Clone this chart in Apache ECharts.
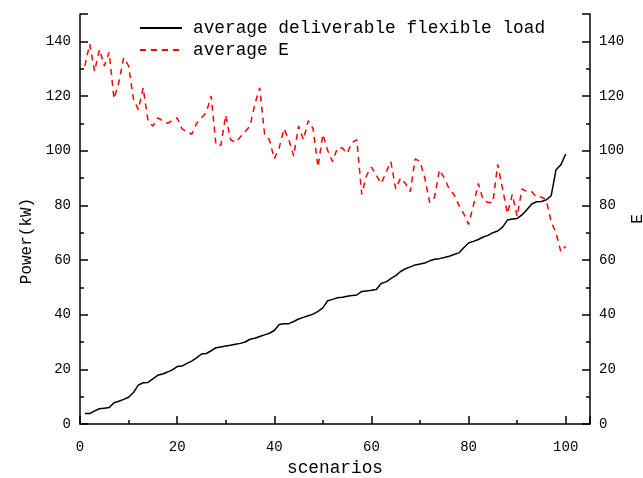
<!DOCTYPE html>
<html>
<head>
<meta charset="utf-8">
<script src="https://cdn.jsdelivr.net/npm/echarts@6/dist/echarts.min.js"></script>
<style>
html,body{margin:0;padding:0;background:#fff;overflow:hidden;}
#c{width:643px;height:478px;}
</style>
</head>
<body>
<div id="c"></div>
<script>
var scenarios = [1,2,3,4,5,6,7,8,9,10,11,12,13,14,15,16,17,18,19,20,21,22,23,24,25,26,27,28,29,30,31,32,33,34,35,36,37,38,39,40,41,42,43,44,45,46,47,48,49,50,51,52,53,54,55,56,57,58,59,60,61,62,63,64,65,66,67,68,69,70,71,72,73,74,75,76,77,78,79,80,81,82,83,84,85,86,87,88,89,90,91,92,93,94,95,96,97,98,99,100];
var flexLoad = [3.8,3.8,4.8,5.6,5.8,6.0,7.8,8.3,9.0,9.8,11.5,14.2,15.1,15.2,16.5,17.8,18.3,19.0,19.8,21.0,21.2,22.2,23.0,24.2,25.6,25.8,26.8,27.9,28.2,28.5,28.8,29.2,29.5,30.0,31.0,31.4,32.0,32.6,33.2,34.2,36.4,36.7,36.7,37.5,38.4,39.0,39.6,40.2,41.2,42.5,45.1,45.6,46.2,46.4,46.7,47.0,47.2,48.5,48.7,48.9,49.2,51.4,52.0,53.2,54.3,55.8,56.8,57.5,58.2,58.5,58.9,59.7,60.3,60.5,60.9,61.4,62.0,62.6,64.5,66.2,66.8,67.5,68.4,69.0,70.0,70.6,72.0,74.6,75.0,75.2,76.5,78.4,80.5,81.3,81.4,82.0,83.5,93.0,94.8,98.8];
var avgE = [131,139,129,137,131,136,119,125,134,131,119,115,123,111,109,112,111,110,111,112,108,107,106,110,112,114,120,102,102,113,104,103,105,107,109,117,123,106,104,97,101,108,104,98,109,104,111,108,94,106,100,96,101,101,99,103,104,84,91,94,91,88,92,96,86,90,88,85,97,96,90,81,83,93,90,86,84,80,77,73,80,88,82,81,81,95,86,77,84,76,86,85,85,83,83,82,74,70,63,65];
var xTickLabels = [0,20,40,60,80,100];
var yTickLabels = [0,20,40,60,80,100,120,140];
var seriesNames = ['average deliverable flexible load','average E'];

var FONT = '"Liberation Mono", "DejaVu Sans Mono", monospace';
function pairs(xs, ys){ return xs.map(function(x,i){ return [x, ys[i]]; }); }
var axisLineStyle = {color:'#000', width:1.5};

function xAx(major){
  return {
    type:'value', min:0, max:105, interval: major?20:10, position:'bottom',
    axisLine:{show:major, onZero:false, lineStyle:axisLineStyle},
    axisTick:{show:true, inside:true, length: major?8:4, lineStyle:{color:'#000', width:1.5}},
    axisLabel:{show:major, margin:16, color:'#000', fontSize:14, fontFamily:FONT,
      formatter:function(v){ return xTickLabels.indexOf(v)>=0 ? String(v) : ''; }},
    splitLine:{show:false},
    name: major ? 'scenarios' : '', nameLocation:'middle', nameGap:33,
    nameTextStyle:{color:'#000', fontSize:17.8, fontFamily:FONT}
  };
}
function yAx(major, pos, name, gap, nameStyle){
  return {
    type:'value', min:0, max:150, interval: major?20:10, position:pos,
    axisLine:{show:major, onZero:false, lineStyle:axisLineStyle},
    axisTick:{show:true, inside:true, length: major?8:4, lineStyle:{color:'#000', width:1.5}},
    axisLabel:{show:major, margin:9, color:'#000', fontSize:14, fontFamily:FONT,
      formatter:function(v){ return yTickLabels.indexOf(v)>=0 ? String(v) : ''; }},
    splitLine:{show:false},
    name: major ? name : '', nameLocation:'middle', nameGap:gap,
    nameTextStyle:nameStyle || {color:'#000', fontSize:16, fontFamily:FONT}
  };
}

var rightMajor = yAx(true,'right','E',40,{color:'#000', fontSize:16, fontFamily:FONT});
rightMajor.nameMoveOverlap = false;

var chart = echarts.init(document.getElementById('c'), null, {renderer:'canvas'});
chart.setOption({
  animation:false,
  backgroundColor:'#fff',
  grid:{left:80, right:53, top:14, bottom:54, containLabel:false, outerBoundsMode:'none'},
  legend:{
    orient:'vertical', left:134, top:14, itemWidth:42, itemHeight:14, itemGap:4,
    itemStyle:{opacity:0},
    textStyle:{color:'#000', fontSize:17.8, fontFamily:FONT, padding:[0,0,0,6]},
    data: seriesNames
  },
  xAxis:[xAx(true), xAx(false)],
  yAxis:[
    yAx(true,'left','Power(kW)',44,{color:'#000', fontSize:16, fontFamily:FONT, padding:[0,44,0,0]}),
    rightMajor,
    yAx(false,'left','',0), yAx(false,'right','',0)
  ],
  series:[
    {name:seriesNames[0], type:'line', xAxisIndex:0, yAxisIndex:0, data:pairs(scenarios, flexLoad),
     symbol:'none', lineStyle:{color:'#000', width:1.5}, itemStyle:{color:'#000'}},
    {name:seriesNames[1], type:'line', xAxisIndex:0, yAxisIndex:1, data:pairs(scenarios, avgE),
     symbol:'none', lineStyle:{color:'#ff0000', width:1.5, type:[6,5]}, itemStyle:{color:'#ff0000'}}
  ]
});
</script>
</body>
</html>
